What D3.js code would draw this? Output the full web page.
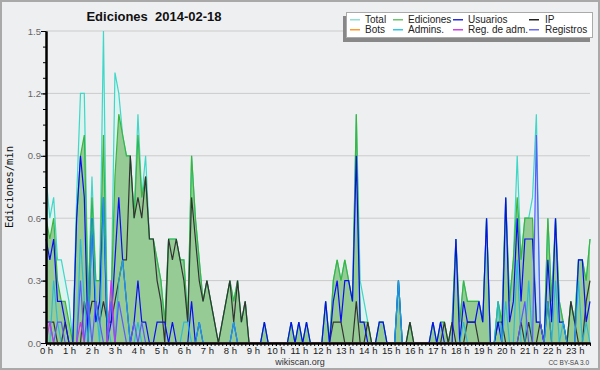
<!DOCTYPE html>
<html>
<head>
<meta charset="utf-8">
<script src="https://cdn.jsdelivr.net/npm/d3@7"></script>
<style>
  body { margin: 0; background: #fff; }
  svg { display: block; }
</style>
</head>
<body>
<div id="chart-area"></div>
<script>
/*
*    Ediciones 2014-02-18 (10 minute buckets, edits per minute)
*/

var hourLabels = ["0 h", "1 h", "2 h", "3 h", "4 h", "5 h", "6 h", "7 h", "8 h", "9 h", "10 h", "11 h",
  "12 h", "13 h", "14 h", "15 h", "16 h", "17 h", "18 h", "19 h", "20 h", "21 h", "22 h", "23 h"];
var yLabels = [0, 0.3, 0.6, 0.9, 1.2, 1.5];

var total = [
  0.8, 0.6, 0.7, 0.4, 0.4, 0.3, 0.2, 0, 0.7, 1.2, 1.2, 0.2,
  0.8, 0.3, 0.3, 1.5, 0.1, 0.2, 1.3, 1.2, 1.0, 0.9, 0.9, 0.6,
  1.1, 0.7, 0.9, 0.5, 0.5, 0.4, 0.3, 0.1, 0.5, 0.5, 0.5, 0.4,
  0.4, 0.1, 0.9, 0.6, 0.4, 0.2, 0.3, 0.2, 0.1, 0, 0.1, 0.2,
  0.3, 0.2, 0.3, 0.1, 0.2, 0, 0, 0, 0, 0.1, 0, 0,
  0, 0, 0, 0, 0.1, 0, 0.1, 0, 0.1, 0, 0, 0,
  0, 0.2, 0, 0.3, 0.4, 0.3, 0.4, 0.3, 0.2, 1.1, 0.3, 0.2,
  0.1, 0, 0, 0.1, 0.1, 0, 0, 0, 0.3, 0, 0, 0.1,
  0, 0, 0, 0, 0, 0.1, 0, 0.1, 0.1, 0, 0.1, 0.5,
  0.1, 0.3, 0.2, 0.2, 0.2, 0.2, 0.1, 0.6, 0, 0, 0.2, 0.1,
  0.7, 0.2, 0.4, 0.9, 0.4, 0.6, 0.6, 0.7, 1.1, 0.1, 0, 0.6,
  0.2, 0.6, 0.2, 0.1, 0, 0.2, 0.1, 0.4, 0.4, 0.3, 0.5
];

var ediciones = [
  0.6, 0.5, 0.6, 0.3, 0.2, 0.2, 0.1, 0, 0.6, 0.9, 1.0, 0.2,
  0.7, 0.3, 0.3, 1.0, 0.1, 0.2, 0.8, 1.1, 1.0, 0.9, 0.9, 0.6,
  1.0, 0.7, 0.8, 0.5, 0.5, 0.4, 0.3, 0.1, 0.5, 0.5, 0.5, 0.4,
  0.4, 0.1, 0.9, 0.6, 0.4, 0.2, 0.3, 0.2, 0.1, 0, 0.1, 0.2,
  0.3, 0.2, 0.3, 0.1, 0.2, 0, 0, 0, 0, 0.1, 0, 0,
  0, 0, 0, 0, 0.1, 0, 0.1, 0, 0.1, 0, 0, 0,
  0, 0.2, 0, 0.3, 0.4, 0.3, 0.4, 0.3, 0.2, 1.1, 0.1, 0.1,
  0.1, 0, 0, 0.1, 0.1, 0, 0, 0, 0.3, 0, 0, 0.1,
  0, 0, 0, 0, 0, 0.1, 0, 0.1, 0.1, 0, 0.1, 0.5,
  0.1, 0.3, 0.2, 0.2, 0.2, 0.2, 0.1, 0.6, 0, 0, 0.2, 0.1,
  0.7, 0.2, 0.4, 0.7, 0.4, 0.6, 0.6, 0.6, 0.1, 0.1, 0, 0.6,
  0.2, 0.6, 0.2, 0.1, 0, 0.2, 0.1, 0.4, 0.4, 0.3, 0.5
];

var usuarios = [
  0.5, 0.4, 0.5, 0.2, 0.2, 0.1, 0, 0, 0.6, 0.9, 0.7, 0,
  0.6, 0.1, 0.2, 0.7, 0, 0.1, 0.4, 0.7, 0.4, 0.2, 0, 0.1,
  0.3, 0.1, 0.1, 0, 0, 0.1, 0.1, 0.1, 0, 0.1, 0, 0,
  0, 0, 0.2, 0, 0.1, 0, 0, 0, 0, 0, 0, 0,
  0, 0.1, 0, 0, 0, 0, 0, 0, 0, 0.1, 0, 0,
  0, 0, 0, 0, 0.1, 0, 0.1, 0, 0.1, 0, 0, 0,
  0, 0.2, 0, 0.2, 0.3, 0.1, 0.3, 0.3, 0.2, 0.9, 0.1, 0.1,
  0, 0, 0, 0.1, 0.1, 0, 0, 0, 0.3, 0, 0, 0,
  0, 0, 0, 0, 0, 0.1, 0, 0.1, 0, 0, 0, 0.5,
  0, 0.2, 0.1, 0.1, 0.1, 0.2, 0.1, 0.6, 0, 0, 0.1, 0,
  0.7, 0.1, 0.2, 0.6, 0.2, 0.5, 0.5, 0.5, 0.1, 0.1, 0, 0.4,
  0.1, 0.6, 0.1, 0.1, 0, 0, 0, 0.4, 0.4, 0.1, 0.2
];

var ip = [
  0.1, 0.1, 0.1, 0, 0, 0.1, 0, 0, 0, 0, 0.2, 0.1,
  0.2, 0.2, 0.1, 0.2, 0.1, 0.1, 0.2, 0.3, 0.4, 0.4, 0.9, 0.6,
  0.7, 0.6, 0.8, 0.5, 0.5, 0.3, 0.2, 0, 0.5, 0.4, 0.5, 0.4,
  0.3, 0.1, 0.7, 0.5, 0.3, 0.2, 0.3, 0.2, 0.1, 0, 0.1, 0.2,
  0.3, 0.1, 0.3, 0.1, 0.2, 0, 0, 0, 0, 0, 0, 0,
  0, 0, 0, 0, 0, 0, 0, 0, 0, 0, 0, 0,
  0, 0, 0, 0.1, 0.1, 0.1, 0, 0, 0, 0.2, 0, 0,
  0.1, 0, 0, 0, 0, 0, 0, 0, 0, 0, 0, 0.1,
  0, 0, 0, 0, 0, 0, 0, 0, 0.1, 0, 0.1, 0,
  0, 0, 0.1, 0.1, 0.1, 0, 0, 0, 0, 0, 0.1, 0.1,
  0, 0, 0, 0, 0.1, 0, 0.1, 0, 0, 0.1, 0, 0.2,
  0, 0, 0, 0, 0, 0.2, 0.1, 0, 0, 0.2, 0.3
];

var bots = [
  0, 0, 0, 0, 0, 0, 0, 0, 0, 0, 0, 0,
  0, 0, 0, 0, 0, 0, 0, 0, 0, 0, 0, 0,
  0, 0, 0, 0, 0, 0, 0, 0, 0, 0, 0, 0,
  0, 0, 0, 0, 0, 0, 0, 0, 0, 0, 0, 0,
  0, 0, 0, 0, 0, 0, 0, 0, 0, 0, 0, 0,
  0, 0, 0, 0, 0, 0, 0, 0, 0, 0, 0, 0,
  0, 0, 0, 0, 0, 0, 0, 0, 0, 0, 0, 0,
  0, 0, 0, 0, 0, 0, 0, 0, 0, 0, 0, 0,
  0, 0, 0, 0, 0, 0, 0, 0, 0, 0, 0, 0,
  0, 0, 0, 0, 0, 0, 0, 0, 0, 0, 0, 0,
  0, 0, 0, 0, 0, 0, 0, 0, 0, 0, 0, 0,
  0, 0, 0, 0, 0, 0, 0, 0, 0, 0, 0
];

var admins = [
  0, 0, 0.3, 0.1, 0, 0, 0, 0, 0, 0.5, 0.2, 0,
  0.6, 0.2, 0, 0.7, 0.1, 0, 0, 0.3, 0.4, 0.2, 0, 0,
  0.1, 0, 0, 0, 0, 0, 0, 0, 0, 0, 0, 0,
  0.1, 0.1, 0, 0, 0.1, 0, 0, 0, 0, 0, 0, 0,
  0, 0.1, 0, 0, 0, 0, 0, 0, 0, 0, 0, 0,
  0, 0, 0, 0, 0, 0, 0, 0, 0, 0, 0, 0,
  0, 0, 0, 0, 0, 0, 0, 0, 0, 0, 0, 0,
  0, 0, 0, 0, 0, 0, 0, 0, 0.3, 0, 0, 0,
  0, 0, 0, 0, 0, 0, 0, 0, 0, 0, 0, 0,
  0, 0.1, 0, 0, 0, 0, 0, 0, 0, 0, 0.2, 0,
  0.2, 0, 0, 0.4, 0, 0, 0.3, 0, 0, 0, 0, 0.2,
  0, 0.3, 0, 0.1, 0, 0, 0, 0.3, 0, 0.1, 0
];

var regAdm = [
  0, 0.1, 0, 0, 0, 0, 0, 0, 0, 0.1, 0, 0,
  0, 0, 0, 0, 0, 0.3, 0, 0, 0, 0, 0, 0,
  0, 0, 0, 0, 0, 0, 0, 0, 0, 0, 0, 0,
  0, 0, 0, 0, 0, 0, 0, 0, 0, 0, 0, 0,
  0, 0, 0, 0, 0, 0, 0, 0, 0, 0, 0, 0,
  0, 0, 0, 0, 0, 0, 0, 0, 0, 0, 0, 0,
  0, 0, 0, 0, 0, 0, 0, 0, 0, 0, 0, 0,
  0, 0, 0, 0, 0, 0, 0, 0, 0, 0, 0, 0,
  0, 0, 0, 0, 0, 0, 0, 0, 0, 0, 0, 0,
  0, 0, 0, 0, 0, 0, 0, 0, 0, 0, 0, 0,
  0, 0, 0, 0, 0, 0, 0, 0, 0, 0, 0, 0,
  0, 0, 0, 0, 0, 0, 0, 0, 0, 0, 0
];

var registros = [
  0.1, 0.1, 0, 0.1, 0.1, 0, 0, 0, 0, 0.3, 0, 0.2,
  0, 0.2, 0.1, 0, 0, 0.2, 0, 0.2, 0.1, 0, 0, 0.1,
  0, 0.1, 0, 0, 0, 0, 0, 0, 0, 0, 0, 0,
  0, 0, 0, 0, 0, 0, 0, 0, 0, 0, 0, 0,
  0, 0, 0, 0, 0, 0, 0, 0, 0, 0, 0, 0,
  0, 0, 0, 0, 0, 0, 0, 0, 0, 0, 0, 0,
  0, 0, 0, 0, 0, 0, 0, 0, 0, 0, 0, 0,
  0, 0, 0, 0, 0, 0, 0, 0, 0, 0, 0, 0,
  0, 0, 0, 0, 0, 0, 0, 0, 0, 0, 0, 0,
  0, 0, 0, 0, 0, 0, 0, 0, 0, 0, 0, 0,
  0, 0, 0, 0, 0.1, 0.2, 0, 0, 1.0, 0.1, 0, 0,
  0, 0, 0, 0, 0, 0, 0, 0, 0, 0, 0
];

var W = 600, H = 370;

var svg = d3.select("#chart-area")
  .append("svg")
  .attr("width", W)
  .attr("height", H);

// frame + background
svg.append("rect")
  .attr("x", 1).attr("y", 1)
  .attr("width", W - 2).attr("height", H - 2)
  .attr("fill", "#eeeff1")
  .attr("stroke", "#a9a9a9")
  .attr("stroke-width", 2);

var x = d3.scaleLinear()
  .domain([0, total.length - 1])
  .range([46, 590]);

var y = d3.scaleLinear()
  .domain([0, 1.5])
  .range([343, 31]);

// grid
svg.selectAll("line.grid")
  .data(yLabels.slice(1))
  .enter()
  .append("line")
  .attr("class", "grid")
  .attr("x1", x(0)).attr("x2", x(total.length - 1))
  .attr("y1", (d) => y(d)).attr("y2", (d) => y(d))
  .attr("stroke", "#cbcbcb")
  .attr("stroke-width", 1);

var area = d3.area()
  .x((d, i) => x(i))
  .y0(y(0))
  .y1((d) => y(d));

var line = d3.line()
  .x((d, i) => x(i))
  .y((d) => y(d));

var series = [
  { name: "Total", values: total, color: "#3fd7c7", swatch: "#8fe0d6" },
  { name: "Ediciones", values: ediciones, color: "#3db43d", swatch: "#6cc46c" },
  { name: "Usuarios", values: usuarios, color: "#0c0cf2", swatch: "#2a2ae6" },
  { name: "IP", values: ip, color: "#333333", swatch: "#222222" },
  { name: "Bots", values: bots, color: "#ff9a2e", swatch: "#ff9a2e" },
  { name: "Admins.", values: admins, color: "#1fb6e0", swatch: "#30c8e4" },
  { name: "Reg. de adm.", values: regAdm, color: "#c838e0", swatch: "#d040ea" },
  { name: "Registros", values: registros, color: "#5a5aff", swatch: "#6a6af4" }
];
var byName = {};
series.forEach((s) => { byName[s.name] = s; });

// filled areas
svg.append("path").attr("d", area(total)).attr("fill", "#ddf3ef");
svg.append("path").attr("d", area(registros)).attr("fill", "#6a6aff").attr("fill-opacity", 0.15);
svg.append("path").attr("d", area(ediciones)).attr("fill", "#96cb96");

// lines
["Total", "Ediciones", "IP", "Usuarios", "Admins.", "Registros", "Reg. de adm.", "Bots"].forEach((n) => {
  var s = byName[n];
  svg.append("path")
    .attr("d", line(s.values))
    .attr("fill", "none")
    .attr("stroke", s.color)
    .attr("stroke-width", 1.2)
    .attr("stroke-opacity", n == "Admins." ? 0.85 : 1);
});

// y axis: minor ticks then labelled ticks
var yMinor = d3.range(0, 1.5001, 0.075);
svg.append("g")
  .attr("transform", "translate(46,0)")
  .call(d3.axisLeft(y).tickValues(yMinor).tickSize(3).tickSizeOuter(0).tickFormat(""));
var yAxisG = svg.append("g")
  .attr("transform", "translate(46,0)")
  .call(d3.axisLeft(y).tickValues(yLabels).tickSize(5).tickSizeOuter(0).tickPadding(0)
    .tickFormat(d3.format(".1f")));
yAxisG.selectAll("text")
  .attr("fill", "#666")
  .style("font-family", "Liberation Sans, Arial, sans-serif")
  .style("font-size", "9.5px");

// x axis: 10 minute ticks, hour labels
var xMinor = d3.range(0, total.length);
svg.append("g")
  .attr("transform", "translate(0,343)")
  .call(d3.axisBottom(x).tickValues(xMinor).tickSize(3).tickSizeOuter(0).tickFormat(""));
var xAxisG = svg.append("g")
  .attr("transform", "translate(0,343)")
  .call(d3.axisBottom(x).tickValues(hourLabels.map((h, i) => i * 6)).tickSize(3).tickSizeOuter(0)
    .tickPadding(1).tickFormat((d, i) => hourLabels[i]));
xAxisG.selectAll("text")
  .attr("fill", "#222")
  .style("font-family", "Liberation Sans, Arial, sans-serif")
  .style("font-size", "9.5px");

svg.selectAll(".domain").attr("stroke", "#000").attr("stroke-width", 2);
svg.selectAll(".tick line").attr("stroke", "#000");

// titles
svg.append("text")
  .attr("x", 154).attr("y", 21)
  .attr("text-anchor", "middle")
  .style("white-space", "pre")
  .style("font-family", "Liberation Sans, Arial, sans-serif")
  .style("font-weight", "bold")
  .style("font-size", "13px")
  .attr("fill", "#111")
  .text("Ediciones  2014-02-18");

svg.append("text")
  .attr("transform", "translate(13,187) rotate(-90)")
  .attr("text-anchor", "middle")
  .style("font-family", "DejaVu Sans Mono, monospace")
  .style("font-size", "10.5px")
  .attr("fill", "#111")
  .text("Ediciones/min");

svg.append("text")
  .attr("x", 300).attr("y", 365)
  .attr("text-anchor", "middle")
  .style("font-family", "Liberation Sans, Arial, sans-serif")
  .style("font-size", "9px")
  .attr("fill", "#333")
  .text("wikiscan.org");

svg.append("text")
  .attr("x", 589).attr("y", 365)
  .attr("text-anchor", "end")
  .style("font-family", "Liberation Sans, Arial, sans-serif")
  .style("font-size", "6.5px")
  .attr("fill", "#444")
  .text("CC BY-SA 3.0");

// legend
svg.append("rect")
  .attr("x", 343).attr("y", 16).attr("width", 247).attr("height", 26)
  .attr("fill", "#888");
svg.append("rect")
  .attr("x", 346.5).attr("y", 12.5).attr("width", 246).attr("height", 25)
  .attr("fill", "#fff").attr("stroke", "#aaa");

var colX = [350, 393, 453, 529];
var legend = svg.selectAll("g.swatch")
  .data(series)
  .enter()
  .append("g")
  .attr("class", "swatch")
  .attr("transform", (d, i) => "translate(" + colX[i % 4] + "," + (i < 4 ? 19 : 29) + ")");
legend.append("rect")
  .attr("x", 0).attr("y", 0)
  .attr("width", 10).attr("height", 1.5)
  .attr("fill", (d) => d.swatch);
legend.append("text")
  .attr("x", (d, i) => (i % 4 == 3 ? 16 : 15))
  .attr("y", 4)
  .style("font-family", "Liberation Sans, Arial, sans-serif")
  .style("font-size", "10px")
  .attr("fill", "#222")
  .text((d) => d.name);
</script>
</body>
</html>
